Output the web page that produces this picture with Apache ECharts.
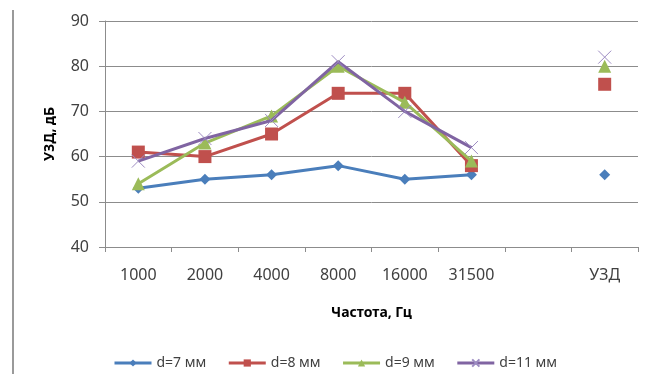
<!DOCTYPE html>
<html>
<head>
<meta charset="utf-8">
<script src="https://cdn.jsdelivr.net/npm/echarts@6/dist/echarts.min.js"></script>
<style>
  html, body { margin: 0; padding: 0; background: #fff; }
  #chart { width: 645px; height: 374px; }
</style>
</head>
<body>
<div id="chart"></div>
<script>
// Frequency bands plus an empty spacer slot before the overall УЗД column
const categories = ['1000', '2000', '4000', '8000', '16000', '31500', '', 'УЗД'];
const yTicks = { min: 40, max: 90, interval: 10 };

// Sound pressure level, dB, for each wire diameter (null = spacer slot)
const d7  = [53, 55, 56, 58, 55, 56, null, 56];
const d8  = [61, 60, 65, 74, 74, 58, null, 76];
const d9  = [54, 63, 69, 80, 72, 59, null, 80];
const d11 = [59, 64, 68, 81, 70, 62, null, 82];

const seriesNames = ['d=7 мм', 'd=8 мм', 'd=9 мм', 'd=11 мм'];
const seriesData = [d7, d8, d9, d11];
const colors = ['#4A7EBB', '#C0504D', '#9BBB59', '#8064A2'];
const symbols = [
  'diamond',
  'rect',
  'triangle',
  'path://M0,0 L1,1 M1,0 L0,1'
];
const symbolSizes = [11, 13, 13, 13];

const font = '"Noto Sans", "DejaVu Sans", sans-serif';

const chart = echarts.init(document.getElementById('chart'), null, { renderer: 'canvas' });

chart.setOption({
  animation: false,
  backgroundColor: '#ffffff',
  color: colors,
  grid: { left: 105, right: 7, top: 21, bottom: 127, containLabel: false },
  legend: {
    top: 351,
    left: 108,
    itemWidth: 37,
    itemHeight: 9,
    itemGap: 21,
    lineStyle: { width: 3 },
    textStyle: { fontFamily: font, fontSize: 14, color: '#404040' },
    data: seriesNames
  },
  xAxis: {
    type: 'category',
    data: categories,
    boundaryGap: true,
    name: 'Частота, Гц',
    nameLocation: 'middle',
    nameGap: 59,
    nameTextStyle: { fontFamily: font, fontSize: 14, fontWeight: 'bold', color: '#000' },
    axisLine: { show: true, lineStyle: { color: '#8c8c8c', width: 1 } },
    axisTick: { show: true, length: 5, alignWithLabel: false, lineStyle: { color: '#8c8c8c' } },
    axisLabel: { fontFamily: font, fontSize: 16, color: '#404040', margin: 20, interval: 0 },
    splitLine: { show: false }
  },
  yAxis: {
    type: 'value',
    min: yTicks.min,
    max: yTicks.max,
    interval: yTicks.interval,
    name: 'УЗД, дБ',
    nameLocation: 'middle',
    nameGap: 48,
    nameRotate: 90,
    nameTextStyle: { fontFamily: font, fontSize: 14, fontWeight: 'bold', color: '#000' },
    axisLine: { show: true, lineStyle: { color: '#8c8c8c', width: 1 } },
    axisTick: { show: true, length: 6, lineStyle: { color: '#8c8c8c' } },
    axisLabel: { fontFamily: font, fontSize: 16, color: '#404040', margin: 16 },
    splitLine: { show: true, lineStyle: { color: '#8c8c8c', width: 1 } }
  },
  graphic: [{
    type: 'line',
    shape: { x1: 13, y1: 10, x2: 13, y2: 374 },
    style: { stroke: '#9a9a9a', lineWidth: 2 },
    silent: true
  }],
  series: seriesNames.map((name, i) => ({
    name: name,
    type: 'line',
    data: seriesData[i],
    connectNulls: false,
    symbol: symbols[i],
    symbolSize: symbolSizes[i],
    showAllSymbol: true,
    lineStyle: { color: colors[i], width: 3 },
    itemStyle: i === 3
      ? { color: 'none', borderColor: '#9d8cc2', borderWidth: 1 }
      : { color: colors[i], borderWidth: 0 },
    emphasis: { disabled: true },
    z: 2 + i
  }))
});
</script>
</body>
</html>
